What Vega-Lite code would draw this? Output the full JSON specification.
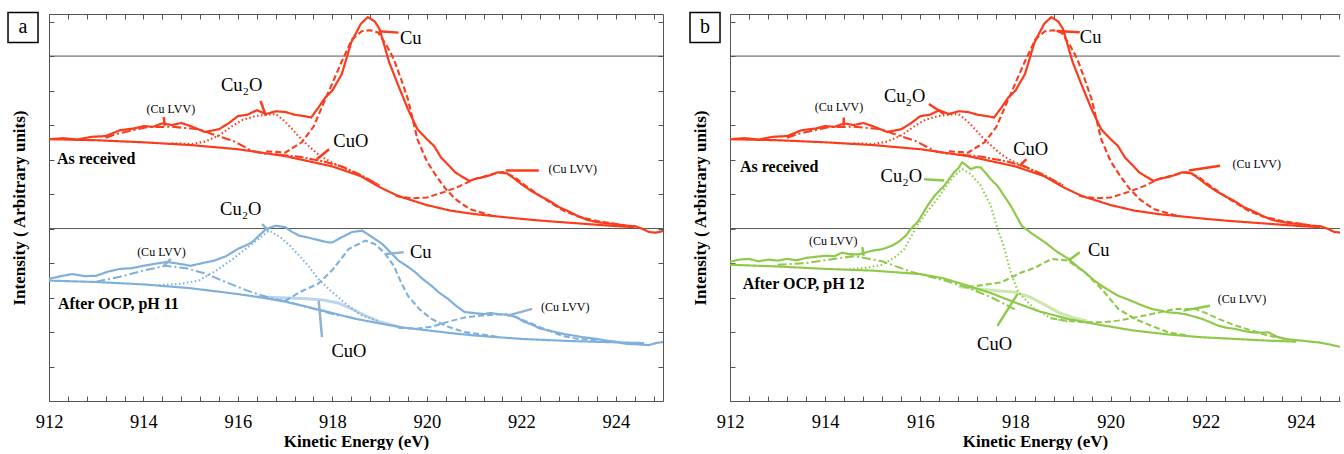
{
"$schema": "https://vega.github.io/schema/vega-lite/v6.json",
"padding": {"left": 5, "top": 9, "right": 0, "bottom": 0},
"background": "white",
"config": {"view": {"stroke": null}, "font": "Liberation Serif, DejaVu Serif, Times New Roman, serif", "text": {"font": "Liberation Serif, DejaVu Serif, Times New Roman, serif"}},
"spacing": 23,
"datasets": {
"seps": [{"I": 5}, {"I": 10}],
"red": [
{"s":"raw","E":912.0,"I":7.59},{"s":"raw","E":912.3,"I":7.62},{"s":"raw","E":912.6,"I":7.58},{"s":"raw","E":912.9,"I":7.66},{"s":"raw","E":913.2,"I":7.68},{"s":"raw","E":913.5,"I":7.85},{"s":"raw","E":913.8,"I":7.9},{"s":"raw","E":914.0,"I":7.97},{"s":"raw","E":914.2,"I":7.95},{"s":"raw","E":914.4,"I":8.05},{"s":"raw","E":914.6,"I":8.0},{"s":"raw","E":914.8,"I":8.06},{"s":"raw","E":915.0,"I":7.97},{"s":"raw","E":915.3,"I":7.8},{"s":"raw","E":915.6,"I":7.88},{"s":"raw","E":915.8,"I":8.05},{"s":"raw","E":916.0,"I":8.26},{"s":"raw","E":916.2,"I":8.3},{"s":"raw","E":916.4,"I":8.43},{"s":"raw","E":916.6,"I":8.32},{"s":"raw","E":916.8,"I":8.4},{"s":"raw","E":917.0,"I":8.38},{"s":"raw","E":917.2,"I":8.3},{"s":"raw","E":917.4,"I":8.26},{"s":"raw","E":917.55,"I":8.22},{"s":"raw","E":917.7,"I":8.5},{"s":"raw","E":917.85,"I":8.8},{"s":"raw","E":918.0,"I":9.0},{"s":"raw","E":918.2,"I":9.48},{"s":"raw","E":918.4,"I":10.4},{"s":"raw","E":918.6,"I":10.93},{"s":"raw","E":918.75,"I":11.13},{"s":"raw","E":918.9,"I":11.0},{"s":"raw","E":919.0,"I":10.78},{"s":"raw","E":919.2,"I":9.83},{"s":"raw","E":919.4,"I":9.13},{"s":"raw","E":919.6,"I":8.46},{"s":"raw","E":919.8,"I":7.88},{"s":"raw","E":920.0,"I":7.59},{"s":"raw","E":920.15,"I":7.4},{"s":"raw","E":920.3,"I":7.06},{"s":"raw","E":920.45,"I":6.85},{"s":"raw","E":920.6,"I":6.63},{"s":"raw","E":920.75,"I":6.5},{"s":"raw","E":920.9,"I":6.38},{"s":"raw","E":921.05,"I":6.45},{"s":"raw","E":921.2,"I":6.49},{"s":"raw","E":921.35,"I":6.55},{"s":"raw","E":921.5,"I":6.63},{"s":"raw","E":921.7,"I":6.6},{"s":"raw","E":921.85,"I":6.45},{"s":"raw","E":922.0,"I":6.29},{"s":"raw","E":922.2,"I":6.1},{"s":"raw","E":922.4,"I":5.94},{"s":"raw","E":922.6,"I":5.8},{"s":"raw","E":922.8,"I":5.62},{"s":"raw","E":923.0,"I":5.5},{"s":"raw","E":923.2,"I":5.36},{"s":"raw","E":923.4,"I":5.25},{"s":"raw","E":923.6,"I":5.19},{"s":"raw","E":923.8,"I":5.15},{"s":"raw","E":924.0,"I":5.13},{"s":"raw","E":924.2,"I":5.08},{"s":"raw","E":924.4,"I":5.07},{"s":"raw","E":924.55,"I":5.0},{"s":"raw","E":924.7,"I":4.9},{"s":"raw","E":924.85,"I":4.88},{"s":"raw","E":925.0,"I":4.93},
{"s":"bg","E":912.0,"I":7.59},{"s":"bg","E":913.0,"I":7.56},{"s":"bg","E":914.0,"I":7.5},{"s":"bg","E":915.0,"I":7.42},{"s":"bg","E":916.0,"I":7.3},{"s":"bg","E":917.0,"I":7.1},{"s":"bg","E":917.5,"I":6.95},{"s":"bg","E":918.0,"I":6.8},{"s":"bg","E":918.6,"I":6.52},{"s":"bg","E":919.0,"I":6.2},{"s":"bg","E":919.4,"I":5.94},{"s":"bg","E":920.0,"I":5.68},{"s":"bg","E":920.5,"I":5.52},{"s":"bg","E":921.0,"I":5.42},{"s":"bg","E":921.5,"I":5.35},{"s":"bg","E":922.0,"I":5.28},{"s":"bg","E":922.5,"I":5.22},{"s":"bg","E":923.0,"I":5.17},{"s":"bg","E":923.5,"I":5.12},{"s":"bg","E":924.0,"I":5.07},{"s":"bg","E":924.4,"I":5.04},
{"s":"cu","E":916.6,"I":7.24},{"s":"cu","E":917.0,"I":7.2},{"s":"cu","E":917.35,"I":7.5},{"s":"cu","E":917.6,"I":7.95},{"s":"cu","E":917.85,"I":8.75},{"s":"cu","E":918.0,"I":9.22},{"s":"cu","E":918.2,"I":9.85},{"s":"cu","E":918.42,"I":10.49},{"s":"cu","E":918.62,"I":10.72},{"s":"cu","E":918.8,"I":10.75},{"s":"cu","E":918.97,"I":10.68},{"s":"cu","E":919.15,"I":10.3},{"s":"cu","E":919.3,"I":9.91},{"s":"cu","E":919.45,"I":9.35},{"s":"cu","E":919.6,"I":8.75},{"s":"cu","E":919.8,"I":7.59},{"s":"cu","E":920.0,"I":6.95},{"s":"cu","E":920.2,"I":6.52},{"s":"cu","E":920.4,"I":6.15},{"s":"cu","E":920.6,"I":5.86},{"s":"cu","E":920.9,"I":5.57},{"s":"cu","E":921.4,"I":5.36},
{"s":"cu2o","E":914.6,"I":7.47},{"s":"cu2o","E":915.03,"I":7.45},{"s":"cu2o","E":915.3,"I":7.52},{"s":"cu2o","E":915.6,"I":7.7},{"s":"cu2o","E":915.88,"I":7.97},{"s":"cu2o","E":916.1,"I":8.15},{"s":"cu2o","E":916.37,"I":8.26},{"s":"cu2o","E":916.6,"I":8.3},{"s":"cu2o","E":916.8,"I":8.32},{"s":"cu2o","E":917.0,"I":8.1},{"s":"cu2o","E":917.15,"I":7.88},{"s":"cu2o","E":917.3,"I":7.65},{"s":"cu2o","E":917.5,"I":7.39},{"s":"cu2o","E":917.7,"I":7.15},{"s":"cu2o","E":917.86,"I":7.01},{"s":"cu2o","E":918.14,"I":6.82},{"s":"cu2o","E":918.5,"I":6.6},{"s":"cu2o","E":919.0,"I":6.25},
{"s":"lvv1","E":913.2,"I":7.63},{"s":"lvv1","E":913.42,"I":7.74},{"s":"lvv1","E":914.07,"I":7.94},{"s":"lvv1","E":914.6,"I":7.95},{"s":"lvv1","E":915.17,"I":7.88},{"s":"lvv1","E":915.45,"I":7.74},{"s":"lvv1","E":915.9,"I":7.54},{"s":"lvv1","E":916.3,"I":7.25},{"s":"lvv1","E":916.6,"I":7.16},
{"s":"cuo","E":916.8,"I":7.15},{"s":"cuo","E":917.3,"I":7.08},{"s":"cuo","E":917.8,"I":6.95},{"s":"cuo","E":918.2,"I":6.8},{"s":"cuo","E":918.6,"I":6.55},{"s":"cuo","E":919.0,"I":6.25},
{"s":"lvv2","E":919.34,"I":5.94},{"s":"lvv2","E":919.7,"I":5.88},{"s":"lvv2","E":920.0,"I":5.9},{"s":"lvv2","E":920.35,"I":6.05},{"s":"lvv2","E":920.7,"I":6.23},{"s":"lvv2","E":921.0,"I":6.43},{"s":"lvv2","E":921.4,"I":6.58},{"s":"lvv2","E":921.6,"I":6.64},{"s":"lvv2","E":921.85,"I":6.5},{"s":"lvv2","E":922.1,"I":6.23},{"s":"lvv2","E":922.5,"I":5.85},{"s":"lvv2","E":922.9,"I":5.51},{"s":"lvv2","E":923.2,"I":5.35},{"s":"lvv2","E":923.6,"I":5.22},{"s":"lvv2","E":924.3,"I":5.07}
],
"blue": [
{"s":"raw","E":912.0,"I":3.54},{"s":"raw","E":912.25,"I":3.62},{"s":"raw","E":912.5,"I":3.68},{"s":"raw","E":912.75,"I":3.62},{"s":"raw","E":913.0,"I":3.63},{"s":"raw","E":913.25,"I":3.75},{"s":"raw","E":913.5,"I":3.83},{"s":"raw","E":913.75,"I":3.85},{"s":"raw","E":914.0,"I":3.92},{"s":"raw","E":914.25,"I":3.98},{"s":"raw","E":914.5,"I":4.03},{"s":"raw","E":914.75,"I":3.98},{"s":"raw","E":915.0,"I":3.92},{"s":"raw","E":915.25,"I":4.0},{"s":"raw","E":915.5,"I":4.07},{"s":"raw","E":915.75,"I":4.2},{"s":"raw","E":916.0,"I":4.41},{"s":"raw","E":916.15,"I":4.5},{"s":"raw","E":916.3,"I":4.6},{"s":"raw","E":916.45,"I":4.8},{"s":"raw","E":916.6,"I":4.99},{"s":"raw","E":916.8,"I":5.08},{"s":"raw","E":917.0,"I":5.04},{"s":"raw","E":917.15,"I":4.9},{"s":"raw","E":917.3,"I":4.79},{"s":"raw","E":917.45,"I":4.75},{"s":"raw","E":917.6,"I":4.7},{"s":"raw","E":917.9,"I":4.6},{"s":"raw","E":918.0,"I":4.6},{"s":"raw","E":918.2,"I":4.75},{"s":"raw","E":918.42,"I":4.9},{"s":"raw","E":918.63,"I":4.94},{"s":"raw","E":918.8,"I":4.79},{"s":"raw","E":919.06,"I":4.55},{"s":"raw","E":919.2,"I":4.35},{"s":"raw","E":919.4,"I":4.07},{"s":"raw","E":919.57,"I":3.92},{"s":"raw","E":919.75,"I":3.74},{"s":"raw","E":919.9,"I":3.55},{"s":"raw","E":920.1,"I":3.34},{"s":"raw","E":920.25,"I":3.15},{"s":"raw","E":920.45,"I":2.96},{"s":"raw","E":920.6,"I":2.78},{"s":"raw","E":920.8,"I":2.58},{"s":"raw","E":921.0,"I":2.55},{"s":"raw","E":921.2,"I":2.52},{"s":"raw","E":921.35,"I":2.55},{"s":"raw","E":921.5,"I":2.52},{"s":"raw","E":921.7,"I":2.5},{"s":"raw","E":921.9,"I":2.43},{"s":"raw","E":922.05,"I":2.3},{"s":"raw","E":922.2,"I":2.23},{"s":"raw","E":922.4,"I":2.1},{"s":"raw","E":922.6,"I":2.04},{"s":"raw","E":922.9,"I":1.94},{"s":"raw","E":923.1,"I":1.9},{"s":"raw","E":923.3,"I":1.85},{"s":"raw","E":923.6,"I":1.8},{"s":"raw","E":923.8,"I":1.75},{"s":"raw","E":924.0,"I":1.72},{"s":"raw","E":924.2,"I":1.66},{"s":"raw","E":924.35,"I":1.65},{"s":"raw","E":924.5,"I":1.64},{"s":"raw","E":924.7,"I":1.62},{"s":"raw","E":924.85,"I":1.68},{"s":"raw","E":925.0,"I":1.71},
{"s":"bg","E":912.0,"I":3.49},{"s":"bg","E":913.0,"I":3.45},{"s":"bg","E":914.0,"I":3.38},{"s":"bg","E":915.0,"I":3.27},{"s":"bg","E":916.0,"I":3.1},{"s":"bg","E":916.5,"I":3.0},{"s":"bg","E":917.0,"I":2.88},{"s":"bg","E":917.5,"I":2.72},{"s":"bg","E":918.0,"I":2.55},{"s":"bg","E":918.5,"I":2.38},{"s":"bg","E":919.0,"I":2.25},{"s":"bg","E":919.5,"I":2.13},{"s":"bg","E":920.0,"I":2.05},{"s":"bg","E":920.5,"I":1.97},{"s":"bg","E":921.0,"I":1.9},{"s":"bg","E":921.5,"I":1.85},{"s":"bg","E":922.0,"I":1.8},{"s":"bg","E":922.5,"I":1.77},{"s":"bg","E":923.0,"I":1.74},{"s":"bg","E":923.5,"I":1.72},{"s":"bg","E":924.0,"I":1.7},{"s":"bg","E":924.6,"I":1.68},
{"s":"cu","E":917.0,"I":2.9},{"s":"cu","E":917.3,"I":3.15},{"s":"cu","E":917.7,"I":3.4},{"s":"cu","E":918.0,"I":3.8},{"s":"cu","E":918.35,"I":4.41},{"s":"cu","E":918.7,"I":4.65},{"s":"cu","E":918.9,"I":4.55},{"s":"cu","E":919.1,"I":4.3},{"s":"cu","E":919.3,"I":3.92},{"s":"cu","E":919.45,"I":3.45},{"s":"cu","E":919.6,"I":3.05},{"s":"cu","E":919.85,"I":2.65},{"s":"cu","E":920.1,"I":2.38},{"s":"cu","E":920.45,"I":2.15},{"s":"cu","E":920.8,"I":2.0},{"s":"cu","E":921.5,"I":1.86},
{"s":"cu2o","E":914.33,"I":3.36},{"s":"cu2o","E":914.8,"I":3.4},{"s":"cu2o","E":915.17,"I":3.49},{"s":"cu2o","E":915.5,"I":3.75},{"s":"cu2o","E":915.9,"I":4.12},{"s":"cu2o","E":916.2,"I":4.45},{"s":"cu2o","E":916.44,"I":4.7},{"s":"cu2o","E":916.66,"I":4.94},{"s":"cu2o","E":916.9,"I":4.75},{"s":"cu2o","E":917.1,"I":4.5},{"s":"cu2o","E":917.3,"I":4.21},{"s":"cu2o","E":917.5,"I":3.9},{"s":"cu2o","E":917.7,"I":3.54},{"s":"cu2o","E":918.0,"I":3.15},{"s":"cu2o","E":918.3,"I":2.8},{"s":"cu2o","E":918.6,"I":2.5},{"s":"cu2o","E":919.0,"I":2.3},
{"s":"lvv1","E":913.0,"I":3.46},{"s":"lvv1","E":913.5,"I":3.6},{"s":"lvv1","E":914.0,"I":3.78},{"s":"lvv1","E":914.47,"I":3.92},{"s":"lvv1","E":914.9,"I":3.85},{"s":"lvv1","E":915.3,"I":3.7},{"s":"lvv1","E":915.74,"I":3.45},{"s":"lvv1","E":916.2,"I":3.2},{"s":"lvv1","E":916.6,"I":3.02},{"s":"lvv1","E":917.2,"I":2.82},{"s":"lvv1","E":917.8,"I":2.6},{"s":"lvv1","E":918.2,"I":2.45},
{"s":"lvv2","E":919.4,"I":2.12},{"s":"lvv2","E":919.8,"I":2.1},{"s":"lvv2","E":920.1,"I":2.15},{"s":"lvv2","E":920.4,"I":2.28},{"s":"lvv2","E":920.8,"I":2.42},{"s":"lvv2","E":921.1,"I":2.47},{"s":"lvv2","E":921.4,"I":2.5},{"s":"lvv2","E":921.66,"I":2.52},{"s":"lvv2","E":921.9,"I":2.42},{"s":"lvv2","E":922.16,"I":2.28},{"s":"lvv2","E":922.5,"I":2.08},{"s":"lvv2","E":922.86,"I":1.89},{"s":"lvv2","E":923.2,"I":1.8},{"s":"lvv2","E":923.6,"I":1.76},
{"s":"pale","E":916.4,"I":3.02},{"s":"pale","E":916.9,"I":2.99},{"s":"pale","E":917.4,"I":2.97},{"s":"pale","E":917.8,"I":2.93},{"s":"pale","E":918.1,"I":2.85},{"s":"pale","E":918.4,"I":2.68},{"s":"pale","E":918.7,"I":2.47},{"s":"pale","E":919.0,"I":2.3},{"s":"pale","E":919.4,"I":2.15}
],
"green": [
{"s":"raw","E":912.0,"I":4.04},{"s":"raw","E":912.2,"I":4.1},{"s":"raw","E":912.4,"I":4.12},{"s":"raw","E":912.6,"I":4.05},{"s":"raw","E":912.8,"I":4.1},{"s":"raw","E":913.0,"I":4.07},{"s":"raw","E":913.2,"I":4.12},{"s":"raw","E":913.4,"I":4.08},{"s":"raw","E":913.6,"I":4.15},{"s":"raw","E":913.8,"I":4.18},{"s":"raw","E":914.0,"I":4.21},{"s":"raw","E":914.2,"I":4.2},{"s":"raw","E":914.35,"I":4.3},{"s":"raw","E":914.5,"I":4.26},{"s":"raw","E":914.7,"I":4.25},{"s":"raw","E":915.0,"I":4.36},{"s":"raw","E":915.2,"I":4.4},{"s":"raw","E":915.4,"I":4.5},{"s":"raw","E":915.55,"I":4.62},{"s":"raw","E":915.7,"I":4.8},{"s":"raw","E":915.8,"I":4.99},{"s":"raw","E":915.95,"I":5.2},{"s":"raw","E":916.15,"I":5.66},{"s":"raw","E":916.3,"I":5.95},{"s":"raw","E":916.5,"I":6.24},{"s":"raw","E":916.71,"I":6.63},{"s":"raw","E":916.8,"I":6.75},{"s":"raw","E":916.88,"I":6.92},{"s":"raw","E":916.95,"I":6.85},{"s":"raw","E":917.06,"I":6.72},{"s":"raw","E":917.17,"I":6.78},{"s":"raw","E":917.27,"I":6.77},{"s":"raw","E":917.38,"I":6.6},{"s":"raw","E":917.48,"I":6.43},{"s":"raw","E":917.62,"I":6.24},{"s":"raw","E":917.76,"I":5.95},{"s":"raw","E":917.9,"I":5.66},{"s":"raw","E":918.13,"I":5.08},{"s":"raw","E":918.35,"I":4.85},{"s":"raw","E":918.62,"I":4.6},{"s":"raw","E":918.85,"I":4.35},{"s":"raw","E":919.11,"I":4.12},{"s":"raw","E":919.3,"I":3.9},{"s":"raw","E":919.46,"I":3.73},{"s":"raw","E":919.65,"I":3.5},{"s":"raw","E":919.81,"I":3.34},{"s":"raw","E":920.0,"I":3.18},{"s":"raw","E":920.16,"I":3.05},{"s":"raw","E":920.35,"I":2.95},{"s":"raw","E":920.51,"I":2.86},{"s":"raw","E":920.7,"I":2.75},{"s":"raw","E":920.86,"I":2.67},{"s":"raw","E":921.05,"I":2.62},{"s":"raw","E":921.21,"I":2.57},{"s":"raw","E":921.4,"I":2.55},{"s":"raw","E":921.56,"I":2.52},{"s":"raw","E":921.75,"I":2.45},{"s":"raw","E":921.92,"I":2.38},{"s":"raw","E":922.1,"I":2.28},{"s":"raw","E":922.27,"I":2.18},{"s":"raw","E":922.45,"I":2.12},{"s":"raw","E":922.62,"I":2.09},{"s":"raw","E":922.8,"I":2.03},{"s":"raw","E":922.97,"I":1.99},{"s":"raw","E":923.15,"I":1.98},{"s":"raw","E":923.32,"I":1.99},{"s":"raw","E":923.5,"I":1.86},{"s":"raw","E":923.67,"I":1.8},{"s":"raw","E":923.85,"I":1.77},{"s":"raw","E":924.02,"I":1.75},{"s":"raw","E":924.2,"I":1.72},{"s":"raw","E":924.37,"I":1.7},{"s":"raw","E":924.6,"I":1.64},{"s":"raw","E":924.85,"I":1.56},
{"s":"bg","E":912.0,"I":3.95},{"s":"bg","E":913.0,"I":3.9},{"s":"bg","E":914.0,"I":3.83},{"s":"bg","E":915.0,"I":3.78},{"s":"bg","E":916.0,"I":3.68},{"s":"bg","E":916.5,"I":3.55},{"s":"bg","E":917.0,"I":3.34},{"s":"bg","E":917.5,"I":3.12},{"s":"bg","E":918.0,"I":2.85},{"s":"bg","E":918.5,"I":2.6},{"s":"bg","E":919.1,"I":2.38},{"s":"bg","E":919.8,"I":2.2},{"s":"bg","E":920.5,"I":2.04},{"s":"bg","E":921.2,"I":1.93},{"s":"bg","E":921.9,"I":1.85},{"s":"bg","E":922.6,"I":1.8},{"s":"bg","E":923.3,"I":1.75},{"s":"bg","E":923.9,"I":1.72},
{"s":"cu","E":917.0,"I":3.3},{"s":"cu","E":917.4,"I":3.38},{"s":"cu","E":917.7,"I":3.44},{"s":"cu","E":918.13,"I":3.73},{"s":"cu","E":918.4,"I":3.86},{"s":"cu","E":918.76,"I":4.12},{"s":"cu","E":919.1,"I":4.07},{"s":"cu","E":919.46,"I":3.73},{"s":"cu","E":919.81,"I":3.25},{"s":"cu","E":920.16,"I":2.67},{"s":"cu","E":920.51,"I":2.38},{"s":"cu","E":920.86,"I":2.18},{"s":"cu","E":921.21,"I":1.99},{"s":"cu","E":921.6,"I":1.9},
{"s":"cu2o","E":914.5,"I":3.82},{"s":"cu2o","E":914.8,"I":3.85},{"s":"cu2o","E":915.2,"I":3.95},{"s":"cu2o","E":915.5,"I":4.2},{"s":"cu2o","E":915.66,"I":4.4},{"s":"cu2o","E":915.8,"I":4.75},{"s":"cu2o","E":915.94,"I":5.1},{"s":"cu2o","E":916.15,"I":5.5},{"s":"cu2o","E":916.36,"I":5.86},{"s":"cu2o","E":916.55,"I":6.25},{"s":"cu2o","E":916.71,"I":6.53},{"s":"cu2o","E":916.88,"I":6.72},{"s":"cu2o","E":917.06,"I":6.58},{"s":"cu2o","E":917.27,"I":6.24},{"s":"cu2o","E":917.48,"I":5.66},{"s":"cu2o","E":917.62,"I":5.0},{"s":"cu2o","E":917.75,"I":4.5},{"s":"cu2o","E":917.9,"I":3.73},{"s":"cu2o","E":918.06,"I":3.15},{"s":"cu2o","E":918.4,"I":2.67},{"s":"cu2o","E":918.75,"I":2.4},{"s":"cu2o","E":919.1,"I":2.3},
{"s":"lvv1","E":913.0,"I":3.95},{"s":"lvv1","E":913.6,"I":4.0},{"s":"lvv1","E":914.0,"I":4.08},{"s":"lvv1","E":914.6,"I":4.2},{"s":"lvv1","E":915.2,"I":4.05},{"s":"lvv1","E":915.8,"I":3.75},{"s":"lvv1","E":916.5,"I":3.5},{"s":"lvv1","E":917.06,"I":3.25},{"s":"lvv1","E":917.5,"I":3.0},{"s":"lvv1","E":918.04,"I":2.62},
{"s":"lvv2","E":918.75,"I":2.4},{"s":"lvv2","E":919.1,"I":2.32},{"s":"lvv2","E":919.46,"I":2.28},{"s":"lvv2","E":919.8,"I":2.28},{"s":"lvv2","E":920.16,"I":2.33},{"s":"lvv2","E":920.5,"I":2.42},{"s":"lvv2","E":920.86,"I":2.52},{"s":"lvv2","E":921.35,"I":2.67},{"s":"lvv2","E":921.77,"I":2.67},{"s":"lvv2","E":922.0,"I":2.55},{"s":"lvv2","E":922.27,"I":2.38},{"s":"lvv2","E":922.6,"I":2.2},{"s":"lvv2","E":922.97,"I":2.04},{"s":"lvv2","E":923.3,"I":1.9},{"s":"lvv2","E":923.67,"I":1.8},
{"s":"pale","E":916.8,"I":3.32},{"s":"pale","E":917.2,"I":3.25},{"s":"pale","E":917.6,"I":3.2},{"s":"pale","E":918.0,"I":3.15},{"s":"pale","E":918.3,"I":3.02},{"s":"pale","E":918.6,"I":2.8},{"s":"pale","E":918.9,"I":2.57},{"s":"pale","E":919.2,"I":2.42},{"s":"pale","E":919.5,"I":2.32}
],
"textA": [
{"t":"Cu","E":919.66,"I":10.52,"k":"big"},{"t":"Cu₂O","E":916.08,"I":9.16,"k":"big"},{"t":"(Cu LVV)","E":914.58,"I":8.46,"k":"small"},{"t":"CuO","E":918.39,"I":7.54,"k":"big"},{"t":"(Cu LVV)","E":923.09,"I":6.72,"k":"small"},{"t":"As received","E":912.17,"I":7.01,"k":"bold"},{"t":"Cu₂O","E":916.06,"I":5.57,"k":"big"},{"t":"(Cu LVV)","E":914.38,"I":4.32,"k":"small"},{"t":"After OCP, pH 11","E":912.19,"I":2.81,"k":"bold"},{"t":"Cu","E":919.87,"I":4.32,"k":"big"},{"t":"(Cu LVV)","E":922.93,"I":2.72,"k":"small"},{"t":"CuO","E":918.35,"I":1.45,"k":"big"}
],
"textB": [
{"t":"Cu","E":919.58,"I":10.55,"k":"big"},{"t":"Cu₂O","E":915.67,"I":8.84,"k":"big"},{"t":"(Cu LVV)","E":914.29,"I":8.52,"k":"small"},{"t":"CuO","E":918.32,"I":7.3,"k":"big"},{"t":"(Cu LVV)","E":923.07,"I":6.87,"k":"small"},{"t":"As received","E":912.21,"I":6.78,"k":"bold"},{"t":"Cu₂O","E":915.6,"I":6.52,"k":"big"},{"t":"(Cu LVV)","E":914.17,"I":4.64,"k":"small"},{"t":"After OCP, pH 12","E":912.27,"I":3.39,"k":"bold"},{"t":"Cu","E":919.75,"I":4.38,"k":"big"},{"t":"(Cu LVV)","E":922.76,"I":2.96,"k":"small"},{"t":"CuO","E":917.56,"I":1.65,"k":"big"}
],
"leadA": [
{"E":918.98,"I":10.72,"E2":919.4,"I2":10.68,"c":"r"},{"E":916.48,"I":8.7,"E2":916.59,"I2":8.27,"c":"r"},{"E":914.43,"I":8.23,"E2":914.45,"I2":7.98,"c":"r"},{"E":917.67,"I":7.01,"E2":917.93,"I2":7.3,"c":"r"},{"E":921.67,"I":6.68,"E2":922.37,"I2":6.68,"c":"r"},
{"E":916.51,"I":5.13,"E2":916.65,"I2":4.94,"c":"b"},{"E":914.43,"I":3.92,"E2":914.58,"I2":4.12,"c":"b"},{"E":919.13,"I":4.26,"E2":919.51,"I2":4.31,"c":"b"},{"E":921.7,"I":2.47,"E2":922.23,"I2":2.67,"c":"b"},{"E":917.71,"I":2.91,"E2":917.78,"I2":1.85,"c":"b"}
],
"leadB": [
{"E":918.86,"I":10.73,"E2":919.35,"I2":10.69,"c":"r"},{"E":916.18,"I":8.61,"E2":916.5,"I2":8.32,"c":"r"},{"E":914.39,"I":8.22,"E2":914.39,"I2":7.98,"c":"r"},{"E":918.09,"I":6.82,"E2":918.23,"I2":7.01,"c":"r"},{"E":921.64,"I":6.68,"E2":922.3,"I2":6.82,"c":"r"},
{"E":916.08,"I":6.43,"E2":916.5,"I2":6.39,"c":"g"},{"E":914.78,"I":4.46,"E2":914.81,"I2":4.21,"c":"g"},{"E":919.11,"I":4.07,"E2":919.35,"I2":4.31,"c":"g"},{"E":921.53,"I":2.62,"E2":922.09,"I2":2.76,"c":"g"},{"E":917.62,"I":2.18,"E2":918.04,"I2":3.1,"c":"g"}
],
"boxA": [{"t":"a","E":911.45,"I":10.83}],
"boxB": [{"t":"b","E":911.475,"I":10.83}]
},
"hconcat": [
{
"width": 614, "height": 387,
"resolve": {"axis": {"x": "independent", "y": "independent"}},
"layer": [
{"data": {"name": "seps"}, "mark": {"type": "rule", "color": "#555555", "strokeWidth": 1},
 "encoding": {"y": {"field": "I", "type": "quantitative", "scale": {"domain": [0, 11.22], "nice": false, "zero": false}, "axis": null}}},
{"data": {"name": "red"}, "mark": {"type": "line", "clip": true, "color": "#fa3c1c"},
 "encoding": {
  "x": {"field": "E", "type": "quantitative", "scale": {"domain": [912, 925], "nice": false, "zero": false},
   "axis": {"orient": "bottom", "values": [912,912.4,912.8,913.2,913.6,914,914.4,914.8,915.2,915.6,916,916.4,916.8,917.2,917.6,918,918.4,918.8,919.2,919.6,920,920.4,920.8,921.2,921.6,922,922.4,922.8,923.2,923.6,924,924.4,924.8],
    "labelExpr": "datum.value % 2 == 0 ? format(datum.value, 'd') : ''", "tickSize": -5, "tickColor": "#555555", "domainColor": "#555555", "grid": false,
    "labelPadding": 16, "labelFontSize": 18.5, "labelFont": "Liberation Serif, DejaVu Serif, Times New Roman, serif", "labelColor": "#000000", "labelFlush": false, "labelOverlap": false, "labelBound": false,
    "title": "Kinetic Energy (eV)", "titleFont": "Liberation Serif, DejaVu Serif, Times New Roman, serif", "titleFontSize": 17, "titleFontWeight": "bold", "titleColor": "#000000", "titlePadding": 3}},
  "y": {"field": "I", "type": "quantitative", "scale": {"domain": [0, 11.22], "nice": false, "zero": false},
   "axis": {"orient": "left", "values": [0,1,2,3,4,5,6,7,8,9,10,11], "labels": false, "tickSize": -5, "tickColor": "#555555", "domainColor": "#555555", "grid": false,
    "title": "Intensity ( Arbitrary units)", "titleFont": "Liberation Serif, DejaVu Serif, Times New Roman, serif", "titleFontSize": 17, "titleFontWeight": "bold", "titleColor": "#000000", "titlePadding": 20}},
  "strokeDash": {"field": "s", "type": "nominal", "legend": null, "scale": {"domain": ["raw","bg","cu","cu2o","cuo","lvv1","lvv2"], "range": [[1,0],[1,0],[6,3],[1.5,2.5],[2,2,9,2],[9,3,2,3],[6,3]]}},
  "strokeWidth": {"field": "s", "type": "nominal", "legend": null, "scale": {"domain": ["raw","bg","cu","cu2o","cuo","lvv1","lvv2"], "range": [2.2,2,1.6,1.5,1.2,1.5,1.6]}}
 }},
{"data": {"name": "red"}, "mark": {"type": "line", "opacity": 0},
 "encoding": {
  "x": {"field": "E", "type": "quantitative", "scale": {"domain": [912, 925], "nice": false, "zero": false},
   "axis": {"orient": "top", "values": [912,912.4,912.8,913.2,913.6,914,914.4,914.8,915.2,915.6,916,916.4,916.8,917.2,917.6,918,918.4,918.8,919.2,919.6,920,920.4,920.8,921.2,921.6,922,922.4,922.8,923.2,923.6,924,924.4,924.8], "labels": false, "tickSize": -5, "tickColor": "#555555", "domainColor": "#555555", "grid": false, "title": null}},
  "y": {"field": "I", "type": "quantitative", "scale": {"domain": [0, 11.22], "nice": false, "zero": false},
   "axis": {"orient": "right", "values": [0,1,2,3,4,5,6,7,8,9,10,11], "labels": false, "tickSize": -5, "tickColor": "#555555", "domainColor": "#555555", "grid": false, "title": null}}
 }},
{"data": {"name": "blue"}, "transform": [{"filter": {"field": "s", "equal": "pale"}}], "mark": {"type": "line", "clip": true, "color": "#bcd5ec", "strokeWidth": 3},
 "encoding": {
  "x": {"field": "E", "type": "quantitative", "scale": {"domain": [912, 925], "nice": false, "zero": false}, "axis": null},
  "y": {"field": "I", "type": "quantitative", "scale": {"domain": [0, 11.22], "nice": false, "zero": false}, "axis": null}}},
{"data": {"name": "blue"}, "transform": [{"filter": {"not": {"field": "s", "equal": "pale"}}}], "mark": {"type": "line", "clip": true, "color": "#7fb0dc"},
 "encoding": {
  "x": {"field": "E", "type": "quantitative", "scale": {"domain": [912, 925], "nice": false, "zero": false}, "axis": null},
  "y": {"field": "I", "type": "quantitative", "scale": {"domain": [0, 11.22], "nice": false, "zero": false}, "axis": null},
  "strokeDash": {"field": "s", "type": "nominal", "legend": null, "scale": {"domain": ["raw","bg","cu","cu2o","cuo","lvv1","lvv2"], "range": [[1,0],[1,0],[6,3],[1.5,2.5],[2,2,9,2],[9,3,2,3],[6,3]]}},
  "strokeWidth": {"field": "s", "type": "nominal", "legend": null, "scale": {"domain": ["raw","bg","cu","cu2o","cuo","lvv1","lvv2"], "range": [2.2,2,1.6,1.5,1.2,1.5,1.6]}}}},
{"data": {"name": "leadA"}, "mark": {"type": "rule", "strokeWidth": 2.5},
 "encoding": {
  "x": {"field": "E", "type": "quantitative", "scale": {"domain": [912, 925], "nice": false, "zero": false}, "axis": null},
  "y": {"field": "I", "type": "quantitative", "scale": {"domain": [0, 11.22], "nice": false, "zero": false}, "axis": null},
  "x2": {"field": "E2"}, "y2": {"field": "I2"},
  "color": {"field": "c", "type": "nominal", "legend": null, "scale": {"domain": ["r","b","g"], "range": ["#fa3c1c","#93b2d0","#8ec94a"]}}}},
{"data": {"name": "textA"}, "transform": [{"filter": {"not": {"field": "k", "equal": "bold"}}}], "mark": {"type": "text", "font": "Liberation Serif, DejaVu Serif, Times New Roman, serif", "color": "#000000"},
 "encoding": {
  "x": {"field": "E", "type": "quantitative", "scale": {"domain": [912, 925], "nice": false, "zero": false}, "axis": null},
  "y": {"field": "I", "type": "quantitative", "scale": {"domain": [0, 11.22], "nice": false, "zero": false}, "axis": null},
  "text": {"field": "t"},
  "size": {"field": "k", "type": "nominal", "legend": null, "scale": {"domain": ["big","small"], "range": [18.5,12]}}}},
{"data": {"name": "textA"}, "transform": [{"filter": {"field": "k", "equal": "bold"}}], "mark": {"type": "text", "font": "Liberation Serif, DejaVu Serif, Times New Roman, serif", "fontWeight": "bold", "fontSize": 16, "align": "left", "color": "#000000"},
 "encoding": {
  "x": {"field": "E", "type": "quantitative", "scale": {"domain": [912, 925], "nice": false, "zero": false}, "axis": null},
  "y": {"field": "I", "type": "quantitative", "scale": {"domain": [0, 11.22], "nice": false, "zero": false}, "axis": null},
  "text": {"field": "t"}}},
{"data": {"name": "boxA"}, "mark": {"type": "point", "shape": "square", "size": 900, "filled": false, "stroke": "#000000", "strokeWidth": 1.5, "opacity": 1},
 "encoding": {
  "x": {"field": "E", "type": "quantitative", "scale": {"domain": [912, 925], "nice": false, "zero": false}, "axis": null},
  "y": {"field": "I", "type": "quantitative", "scale": {"domain": [0, 11.22], "nice": false, "zero": false}, "axis": null}}},
{"data": {"name": "boxA"}, "mark": {"type": "text", "font": "Liberation Serif, DejaVu Serif, Times New Roman, serif", "fontSize": 20, "color": "#000000"},
 "encoding": {
  "x": {"field": "E", "type": "quantitative", "scale": {"domain": [912, 925], "nice": false, "zero": false}, "axis": null},
  "y": {"field": "I", "type": "quantitative", "scale": {"domain": [0, 11.22], "nice": false, "zero": false}, "axis": null},
  "text": {"field": "t"}}}
]
},
{
"width": 610, "height": 387,
"resolve": {"axis": {"x": "independent", "y": "independent"}},
"layer": [
{"data": {"name": "seps"}, "mark": {"type": "rule", "color": "#555555", "strokeWidth": 1},
 "encoding": {"y": {"field": "I", "type": "quantitative", "scale": {"domain": [0, 11.22], "nice": false, "zero": false}, "axis": null}}},
{"data": {"name": "red"}, "mark": {"type": "line", "clip": true, "color": "#fa3c1c"},
 "encoding": {
  "x": {"field": "E", "type": "quantitative", "scale": {"domain": [912, 924.82], "nice": false, "zero": false},
   "axis": {"orient": "bottom", "values": [912,912.4,912.8,913.2,913.6,914,914.4,914.8,915.2,915.6,916,916.4,916.8,917.2,917.6,918,918.4,918.8,919.2,919.6,920,920.4,920.8,921.2,921.6,922,922.4,922.8,923.2,923.6,924,924.4,924.8],
    "labelExpr": "datum.value % 2 == 0 ? format(datum.value, 'd') : ''", "tickSize": -5, "tickColor": "#555555", "domainColor": "#555555", "grid": false,
    "labelPadding": 16, "labelFontSize": 18.5, "labelFont": "Liberation Serif, DejaVu Serif, Times New Roman, serif", "labelColor": "#000000", "labelFlush": false, "labelOverlap": false, "labelBound": false,
    "title": "Kinetic Energy (eV)", "titleFont": "Liberation Serif, DejaVu Serif, Times New Roman, serif", "titleFontSize": 17, "titleFontWeight": "bold", "titleColor": "#000000", "titlePadding": 3}},
  "y": {"field": "I", "type": "quantitative", "scale": {"domain": [0, 11.22], "nice": false, "zero": false},
   "axis": {"orient": "left", "values": [0,1,2,3,4,5,6,7,8,9,10,11], "labels": false, "tickSize": -5, "tickColor": "#555555", "domainColor": "#555555", "grid": false,
    "title": "Intensity ( Arbitrary units)", "titleFont": "Liberation Serif, DejaVu Serif, Times New Roman, serif", "titleFontSize": 17, "titleFontWeight": "bold", "titleColor": "#000000", "titlePadding": 20}},
  "strokeDash": {"field": "s", "type": "nominal", "legend": null, "scale": {"domain": ["raw","bg","cu","cu2o","cuo","lvv1","lvv2"], "range": [[1,0],[1,0],[6,3],[1.5,2.5],[2,2,9,2],[9,3,2,3],[6,3]]}},
  "strokeWidth": {"field": "s", "type": "nominal", "legend": null, "scale": {"domain": ["raw","bg","cu","cu2o","cuo","lvv1","lvv2"], "range": [2.2,2,1.6,1.5,1.2,1.5,1.6]}}
 }},
{"data": {"name": "red"}, "mark": {"type": "line", "opacity": 0},
 "encoding": {
  "x": {"field": "E", "type": "quantitative", "scale": {"domain": [912, 924.82], "nice": false, "zero": false},
   "axis": {"orient": "top", "values": [912,912.4,912.8,913.2,913.6,914,914.4,914.8,915.2,915.6,916,916.4,916.8,917.2,917.6,918,918.4,918.8,919.2,919.6,920,920.4,920.8,921.2,921.6,922,922.4,922.8,923.2,923.6,924,924.4,924.8], "labels": false, "tickSize": -5, "tickColor": "#555555", "domainColor": "#555555", "grid": false, "title": null}},
  "y": {"field": "I", "type": "quantitative", "scale": {"domain": [0, 11.22], "nice": false, "zero": false}, "axis": null}
 }},
{"data": {"name": "green"}, "transform": [{"filter": {"field": "s", "equal": "pale"}}], "mark": {"type": "line", "clip": true, "color": "#cbe8ac", "strokeWidth": 3},
 "encoding": {
  "x": {"field": "E", "type": "quantitative", "scale": {"domain": [912, 924.82], "nice": false, "zero": false}, "axis": null},
  "y": {"field": "I", "type": "quantitative", "scale": {"domain": [0, 11.22], "nice": false, "zero": false}, "axis": null}}},
{"data": {"name": "green"}, "transform": [{"filter": {"not": {"field": "s", "equal": "pale"}}}], "mark": {"type": "line", "clip": true, "color": "#8ec94a"},
 "encoding": {
  "x": {"field": "E", "type": "quantitative", "scale": {"domain": [912, 924.82], "nice": false, "zero": false}, "axis": null},
  "y": {"field": "I", "type": "quantitative", "scale": {"domain": [0, 11.22], "nice": false, "zero": false}, "axis": null},
  "strokeDash": {"field": "s", "type": "nominal", "legend": null, "scale": {"domain": ["raw","bg","cu","cu2o","cuo","lvv1","lvv2"], "range": [[1,0],[1,0],[6,3],[1.5,2.5],[2,2,9,2],[9,3,2,3],[6,3]]}},
  "strokeWidth": {"field": "s", "type": "nominal", "legend": null, "scale": {"domain": ["raw","bg","cu","cu2o","cuo","lvv1","lvv2"], "range": [2.2,2,1.6,1.5,1.2,1.5,1.6]}}}},
{"data": {"name": "leadB"}, "mark": {"type": "rule", "strokeWidth": 2.5},
 "encoding": {
  "x": {"field": "E", "type": "quantitative", "scale": {"domain": [912, 924.82], "nice": false, "zero": false}, "axis": null},
  "y": {"field": "I", "type": "quantitative", "scale": {"domain": [0, 11.22], "nice": false, "zero": false}, "axis": null},
  "x2": {"field": "E2"}, "y2": {"field": "I2"},
  "color": {"field": "c", "type": "nominal", "legend": null, "scale": {"domain": ["r","b","g"], "range": ["#fa3c1c","#93b2d0","#8ec94a"]}}}},
{"data": {"name": "textB"}, "transform": [{"filter": {"not": {"field": "k", "equal": "bold"}}}], "mark": {"type": "text", "font": "Liberation Serif, DejaVu Serif, Times New Roman, serif", "color": "#000000"},
 "encoding": {
  "x": {"field": "E", "type": "quantitative", "scale": {"domain": [912, 924.82], "nice": false, "zero": false}, "axis": null},
  "y": {"field": "I", "type": "quantitative", "scale": {"domain": [0, 11.22], "nice": false, "zero": false}, "axis": null},
  "text": {"field": "t"},
  "size": {"field": "k", "type": "nominal", "legend": null, "scale": {"domain": ["big","small"], "range": [18.5,12]}}}},
{"data": {"name": "textB"}, "transform": [{"filter": {"field": "k", "equal": "bold"}}], "mark": {"type": "text", "font": "Liberation Serif, DejaVu Serif, Times New Roman, serif", "fontWeight": "bold", "fontSize": 16, "align": "left", "color": "#000000"},
 "encoding": {
  "x": {"field": "E", "type": "quantitative", "scale": {"domain": [912, 924.82], "nice": false, "zero": false}, "axis": null},
  "y": {"field": "I", "type": "quantitative", "scale": {"domain": [0, 11.22], "nice": false, "zero": false}, "axis": null},
  "text": {"field": "t"}}},
{"data": {"name": "boxB"}, "mark": {"type": "point", "shape": "square", "size": 900, "filled": false, "stroke": "#000000", "strokeWidth": 1.5, "opacity": 1},
 "encoding": {
  "x": {"field": "E", "type": "quantitative", "scale": {"domain": [912, 924.82], "nice": false, "zero": false}, "axis": null},
  "y": {"field": "I", "type": "quantitative", "scale": {"domain": [0, 11.22], "nice": false, "zero": false}, "axis": null}}},
{"data": {"name": "boxB"}, "mark": {"type": "text", "font": "Liberation Serif, DejaVu Serif, Times New Roman, serif", "fontSize": 20, "color": "#000000"},
 "encoding": {
  "x": {"field": "E", "type": "quantitative", "scale": {"domain": [912, 924.82], "nice": false, "zero": false}, "axis": null},
  "y": {"field": "I", "type": "quantitative", "scale": {"domain": [0, 11.22], "nice": false, "zero": false}, "axis": null},
  "text": {"field": "t"}}}
]
}
]
}
